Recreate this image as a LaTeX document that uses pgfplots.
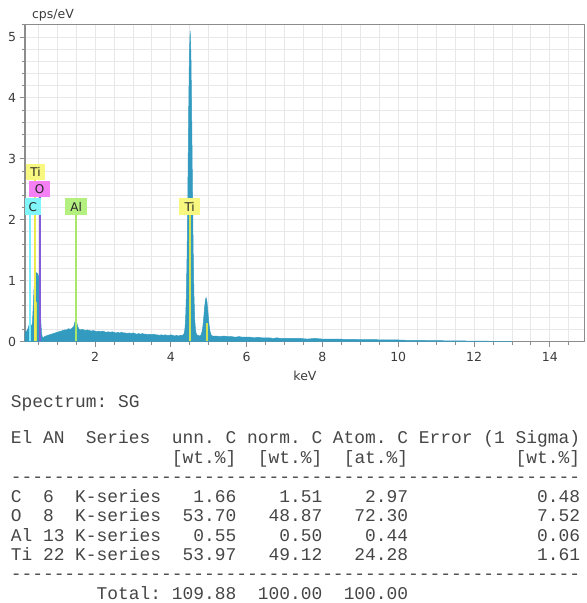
\documentclass[border=0pt]{standalone}
\usepackage{fontspec}
\setmainfont{DejaVu Sans}
\setmonofont{Liberation Mono}
\usepackage{pgfplots}
\pgfplotsset{compat=1.18}
\definecolor{spec}{RGB}{52,155,192}
\definecolor{gridc}{RGB}{232,232,232}
\definecolor{axc}{RGB}{140,140,140}
\definecolor{txt}{RGB}{60,60,60}
\definecolor{tabtxt}{RGB}{70,70,70}
\definecolor{cline}{RGB}{120,240,255}
\definecolor{cbox}{RGB}{128,245,250}
\definecolor{tiline}{RGB}{235,235,80}
\definecolor{tibox}{RGB}{248,248,128}
\definecolor{oline}{RGB}{130,90,220}
\definecolor{obox}{RGB}{245,128,245}
\definecolor{alline}{RGB}{168,232,104}
\definecolor{albox}{RGB}{180,240,128}
\definecolor{tikline}{RGB}{210,225,80}
\begin{document}
\begin{tikzpicture}[x=1bp,y=1bp]
\useasboundingbox (0bp,0bp) rectangle (587bp,603bp);
\begin{axis}[
  at={(25bp,261.5bp)}, anchor=south west,
  scale only axis, width=559.5bp, height=316.7bp,
  xmin=0.152, xmax=14.915, ymin=0, ymax=5.2,
  xtick={2,4,...,14}, ytick={0,1,...,5},
  minor xtick={0.5,1,...,14.5},
  minor ytick={0.2,0.4,...,5.2},
  grid=both,
  major grid style={draw=gridc, line width=0.8bp},
  minor grid style={draw=gridc, line width=0.8bp},
  tick align=outside, tick pos=left,
  major tick length=5.5bp, minor tick length=3.5bp,
  tick style={draw=axc, line width=0.8bp},
  axis line style={draw=axc, line width=1.1bp},
  ticklabel style={font=\fontsize{12.5bp}{14bp}\selectfont, text=txt},
  xticklabel style={yshift=-1.5bp},
  /pgf/number format/assume math mode=true,
  xlabel={keV}, ylabel={cps/eV},
  every axis x label/.style={at={(axis description cs:0.5004,-0.109)}, anchor=center, font=\fontsize{12.5bp}{14bp}\selectfont, text=txt},
  every axis y label/.style={at={(axis description cs:0.05,1.031)}, anchor=center, font=\fontsize{12.5bp}{14bp}\selectfont, text=txt},
]
\addplot[draw=spec, fill=spec, line width=0.5bp] coordinates {
(0.152,0.14) (0.17,0.17) (0.19,0.15) (0.21,0.19) (0.23,0.21) (0.25,0.25) (0.27,0.29) (0.29,0.31) (0.31,0.27) (0.33,0.24)
(0.35,0.33) (0.37,0.58) (0.39,0.86) (0.41,1.02) (0.43,1.10) (0.45,1.13) (0.47,1.12) (0.49,1.11) (0.51,1.07) (0.53,0.97)
(0.55,0.66) (0.57,0.32) (0.59,0.13) (0.61,0.07) (0.63,0.06) (0.65,0.07) (0.67,0.08)
(0.70,0.09) (0.75,0.10) (0.80,0.11) (0.85,0.12) (0.90,0.13) (0.95,0.14) (1.00,0.15) (1.05,0.16) (1.10,0.17) (1.15,0.18)
(1.20,0.19) (1.25,0.19) (1.30,0.21) (1.35,0.20) (1.40,0.22) (1.44,0.25) (1.47,0.32) (1.49,0.35) (1.51,0.33) (1.54,0.25)
(1.58,0.20) (1.62,0.19) (1.66,0.20) (1.70,0.19) (1.75,0.18) (1.80,0.19) (1.85,0.18) (1.90,0.17) (1.95,0.18) (2.00,0.17)
(2.05,0.16) (2.10,0.17) (2.15,0.16) (2.20,0.17) (2.25,0.16) (2.30,0.15) (2.35,0.16) (2.40,0.15) (2.45,0.16) (2.50,0.15)
(2.55,0.14) (2.60,0.15) (2.65,0.14) (2.70,0.15) (2.75,0.14) (2.80,0.14) (2.85,0.13) (2.90,0.14) (2.95,0.13) (3.00,0.14)
(3.05,0.13) (3.10,0.12) (3.15,0.13) (3.20,0.12) (3.25,0.13) (3.30,0.12) (3.35,0.12) (3.40,0.11) (3.45,0.12) (3.50,0.11)
(3.55,0.12) (3.60,0.11) (3.65,0.11) (3.70,0.10) (3.75,0.11) (3.80,0.10) (3.85,0.11) (3.90,0.10) (3.95,0.10) (4.00,0.11)
(4.05,0.10) (4.10,0.09) (4.15,0.10) (4.20,0.09) (4.25,0.10) (4.30,0.10) (4.33,0.11)
(4.35,0.13) (4.37,0.19) (4.39,0.37) (4.41,0.76) (4.43,1.48) (4.45,2.53) (4.47,3.73) (4.49,4.72) (4.51,5.10) (4.53,4.72)
(4.55,3.73) (4.57,2.53) (4.59,1.48) (4.61,0.76) (4.63,0.37) (4.65,0.19) (4.67,0.13) (4.70,0.10) (4.73,0.10) (4.76,0.09)
(4.79,0.10) (4.81,0.13) (4.83,0.18) (4.85,0.27) (4.87,0.40) (4.89,0.55) (4.91,0.67) (4.93,0.72) (4.95,0.67) (4.97,0.55)
(4.99,0.40) (5.01,0.27) (5.03,0.18) (5.05,0.13) (5.07,0.10) (5.10,0.09)
(5.2,0.09) (5.3,0.08) (5.4,0.09) (5.5,0.08) (5.6,0.08) (5.7,0.07) (5.8,0.08) (5.9,0.07) (6.0,0.07) (6.1,0.07)
(6.2,0.06) (6.3,0.07) (6.4,0.06) (6.5,0.06) (6.6,0.06) (6.7,0.05) (6.8,0.06) (6.9,0.05) (7.0,0.05) (7.2,0.05)
(7.4,0.05) (7.6,0.04) (7.8,0.05) (8.0,0.04) (8.2,0.04) (8.4,0.04) (8.6,0.035) (8.8,0.035) (9.0,0.03) (9.2,0.03)
(9.4,0.03) (9.6,0.025) (9.8,0.025) (10.0,0.025) (10.2,0.02) (10.4,0.02) (10.6,0.018) (10.8,0.015) (11.0,0.015) (11.2,0.012)
(11.4,0.01) (11.6,0.01) (11.8,0.008) (12.0,0.006) (12.2,0.005) (12.4,0.004) (12.6,0.003) (12.8,0.002) (13.0,0.0)
} \closedcycle;
% element marker lines
\addplot[draw=cline, line width=1.8bp] coordinates {(0.285,0) (0.285,2.077)};
\addplot[draw=tiline, line width=1.6bp] coordinates {(0.42,0) (0.42,2.651)};
\addplot[draw=tikline, line width=1.6bp] coordinates {(0.46,0) (0.46,0.65)};
\addplot[draw=oline, line width=1.8bp] coordinates {(0.54,0) (0.54,2.368)};
\addplot[draw=alline, line width=1.6bp] coordinates {(1.50,0) (1.50,2.077)};
\addplot[draw=tikline, line width=1.6bp] coordinates {(4.50,0) (4.50,2.077)};
\addplot[draw=tikline, line width=1.6bp] coordinates {(4.95,0) (4.95,0.30)};
% element labels
\node[fill=tibox, minimum width=19bp, minimum height=16.3bp, inner sep=0pt, font=\fontsize{12bp}{14bp}\selectfont, text=black!85] at (axis cs:0.43,2.783) {Ti};
\node[fill=obox, minimum width=20.7bp, minimum height=16.6bp, inner sep=0pt, font=\fontsize{12bp}{14bp}\selectfont, text=black!85] at (axis cs:0.54,2.504) {O};
\node[fill=cbox, minimum width=15.7bp, minimum height=16.7bp, inner sep=0pt, font=\fontsize{12bp}{14bp}\selectfont, text=black!85] at (axis cs:0.36,2.214) {C};
\node[fill=albox, minimum width=22.3bp, minimum height=16.7bp, inner sep=0pt, font=\fontsize{12bp}{14bp}\selectfont, text=black!85] at (axis cs:1.502,2.214) {Al};
\node[fill=tibox, minimum width=20.7bp, minimum height=16.7bp, inner sep=0pt, font=\fontsize{12bp}{14bp}\selectfont, text=black!85] at (axis cs:4.497,2.214) {Ti};
\end{axis}
% quantification table
\begin{scope}[every node/.style={anchor=base west, inner sep=0pt, text=tabtxt, font=\ttfamily\fontsize{17.9bp}{20bp}\selectfont}]
\node at (10.6bp,195bp) {Spectrum:~SG};
\node at (10.6bp,159bp) {El~AN~~Series~~unn.~C~norm.~C~Atom.~C~Error~(1~Sigma)};
\node at (10.6bp,139bp) {~~~~~~~~~~~~~~~[wt.\%]~~[wt.\%]~~[at.\%]~~~~~~~~~~[wt.\%]};
\node at (10.6bp,120.5bp) {-----------------------------------------------------};
\node at (10.6bp,100.5bp) {C~~6~~K-series~~~1.66~~~~1.51~~~~2.97~~~~~~~~~~~~0.48};
\node at (10.6bp,81bp) {O~~8~~K-series~~53.70~~~48.87~~~72.30~~~~~~~~~~~~7.52};
\node at (10.6bp,61.5bp) {Al~13~K-series~~~0.55~~~~0.50~~~~0.44~~~~~~~~~~~~0.06};
\node at (10.6bp,42bp) {Ti~22~K-series~~53.97~~~49.12~~~24.28~~~~~~~~~~~~1.61};
\node at (10.6bp,24bp) {-----------------------------------------------------};
\node at (10.6bp,4bp) {~~~~~~~~Total:~109.88~~100.00~~100.00};
\end{scope}
\end{tikzpicture}
\end{document}
